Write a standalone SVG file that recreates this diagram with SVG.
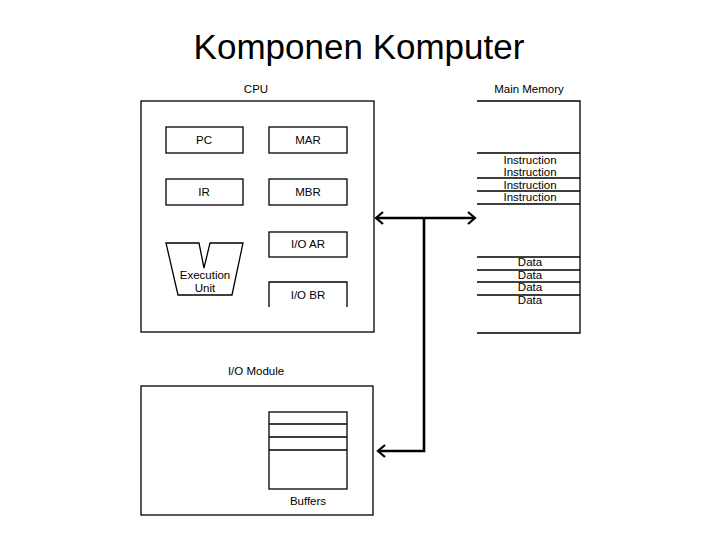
<svg xmlns="http://www.w3.org/2000/svg" width="720" height="540" viewBox="0 0 720 540">
<style>
.box{fill:none;stroke:#000;stroke-width:1.3}
.t{font-family:"Liberation Sans",Arial,sans-serif;font-size:11.5px;fill:#000;text-anchor:middle}
.title{font-family:"Liberation Sans",Arial,sans-serif;font-size:35px;fill:#000;text-anchor:middle}
.bus{fill:none;stroke:#000;stroke-width:2.6}
.head{fill:none;stroke:#000;stroke-width:2.2}
</style>
<rect width="720" height="540" fill="#fff"/>
<text class="title" x="359" y="59">Komponen Komputer</text>

<g id="cpu">
<text class="t" x="256" y="93">CPU</text>
<rect class="box" x="141" y="101" width="233" height="231"/>
</g>
<g id="pc"><rect class="box" x="166" y="127" width="77" height="26"/><text class="t" x="204" y="144">PC</text></g>
<g id="mar"><rect class="box" x="269" y="127" width="78" height="26"/><text class="t" x="308" y="144">MAR</text></g>
<g id="ir"><rect class="box" x="166" y="179" width="77" height="26"/><text class="t" x="204" y="196">IR</text></g>
<g id="mbr"><rect class="box" x="269" y="179" width="78" height="26"/><text class="t" x="308" y="196">MBR</text></g>
<g id="ioar"><rect class="box" x="269" y="232" width="78" height="25"/><text class="t" x="308" y="248">I/O AR</text></g>
<g id="iobr"><path class="box" d="M269,307 V282 H347 V307"/><text class="t" x="308" y="299">I/O BR</text></g>
<g id="exec">
<path class="box" d="M166,243 H199 L204,268 L210,243 H243 L232,295 H178 Z"/>
<text class="t" x="205" y="279">Execution</text>
<text class="t" x="205" y="292">Unit</text>
</g>

<g id="memory">
<text class="t" x="529" y="93">Main Memory</text>
<path class="box" d="M477,101 H580 V333 H477"/>
<path class="box" d="M477,153 H580 M477,178 H580 M477,191 H580 M477,204 H580 M477,257 H580 M477,270 H580 M477,282 H580 M477,295 H580"/>
<text class="t" x="530" y="164">Instruction</text>
<text class="t" x="530" y="176">Instruction</text>
<text class="t" x="530" y="189">Instruction</text>
<text class="t" x="530" y="201">Instruction</text>
<text class="t" x="530" y="266">Data</text>
<text class="t" x="530" y="279">Data</text>
<text class="t" x="530" y="291">Data</text>
<text class="t" x="530" y="304">Data</text>
</g>

<g id="iomodule">
<text class="t" x="256" y="375">I/O Module</text>
<rect class="box" x="141" y="386" width="232" height="129"/>
</g>
<g id="buffers">
<rect class="box" x="269" y="412" width="78" height="77"/>
<path class="box" d="M269,424 H347 M269,437 H347 M269,450 H347"/>
<text class="t" x="308" y="505">Buffers</text>
</g>

<g id="connectors">
<path class="bus" d="M376,218 H475"/>
<path class="bus" d="M424,218 V451 H378"/>
<path class="head" d="M383,212 L376,218 L383,224"/>
<path class="head" d="M468,212 L475,218 L468,224"/>
<path class="head" d="M385,445 L378,451 L385,457"/>
</g>
</svg>
